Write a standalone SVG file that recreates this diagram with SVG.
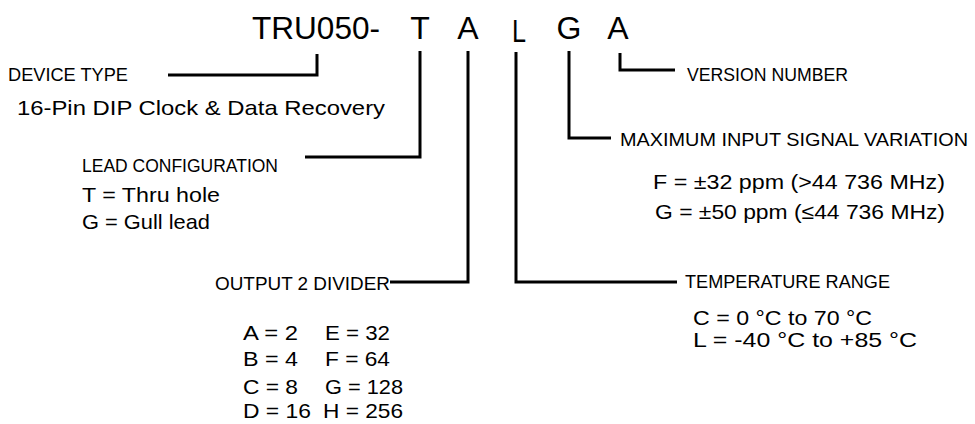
<svg xmlns="http://www.w3.org/2000/svg" width="975" height="424" viewBox="0 0 975 424">
<style>
text{font-family:"Liberation Sans",Arial,sans-serif;fill:#000;}
.cap{font-size:18.5px;}
.d{font-size:21px;}
.t{font-size:32px;}
.c{fill:none;stroke:#000;stroke-width:3;stroke-linecap:butt;stroke-linejoin:miter;}
</style>
<rect width="975" height="424" fill="#fff"/>
<g id="title">
<text class="t" x="252" y="39" textLength="128" lengthAdjust="spacingAndGlyphs">TRU050-</text>
<text class="t" x="420" y="39" text-anchor="middle">T</text>
<text class="t" x="468" y="39" text-anchor="middle">A</text>
<text class="t" x="519" y="42" text-anchor="middle" textLength="14" lengthAdjust="spacingAndGlyphs">L</text>
<text class="t" x="569" y="39" text-anchor="middle">G</text>
<text class="t" x="618" y="39" text-anchor="middle">A</text>
</g>
<g id="connectors">
<polyline class="c" points="168,75 317,75 317,54"/>
<polyline class="c" points="305,157 420,157 420,51"/>
<polyline class="c" points="390,282 468,282 468,51"/>
<polyline class="c" points="677,282 516,282 516,52"/>
<polyline class="c" points="611,138 569,138 569,51"/>
<polyline class="c" points="675,70 620,70 620,53"/>
</g>
<g id="device-type">
<text class="cap" x="8" y="81" textLength="120" lengthAdjust="spacingAndGlyphs">DEVICE TYPE</text>
<text class="d" x="17" y="115" textLength="368" lengthAdjust="spacingAndGlyphs">16-Pin DIP Clock &amp; Data Recovery</text>
</g>
<g id="lead-configuration">
<text class="cap" x="82" y="172" textLength="196" lengthAdjust="spacingAndGlyphs">LEAD CONFIGURATION</text>
<text class="d" x="82" y="202" textLength="138" lengthAdjust="spacingAndGlyphs">T = Thru hole</text>
<text class="d" x="82" y="229" textLength="128" lengthAdjust="spacingAndGlyphs">G = Gull lead</text>
</g>
<g id="output-divider">
<text class="cap" x="215" y="290" textLength="175" lengthAdjust="spacingAndGlyphs">OUTPUT 2 DIVIDER</text>
<text class="d" x="243" y="340" textLength="55" lengthAdjust="spacingAndGlyphs">A = 2</text>
<text class="d" x="325" y="340" textLength="65" lengthAdjust="spacingAndGlyphs">E = 32</text>
<text class="d" x="243" y="366" textLength="55" lengthAdjust="spacingAndGlyphs">B = 4</text>
<text class="d" x="325" y="366" textLength="65" lengthAdjust="spacingAndGlyphs">F = 64</text>
<text class="d" x="243" y="394" textLength="55" lengthAdjust="spacingAndGlyphs">C = 8</text>
<text class="d" x="325" y="394" textLength="78" lengthAdjust="spacingAndGlyphs">G = 128</text>
<text class="d" x="243" y="418" textLength="68" lengthAdjust="spacingAndGlyphs">D = 16</text>
<text class="d" x="323" y="418" textLength="80" lengthAdjust="spacingAndGlyphs">H = 256</text>
</g>
<g id="temperature-range">
<text class="cap" x="685" y="288" textLength="205" lengthAdjust="spacingAndGlyphs">TEMPERATURE RANGE</text>
<text class="d" x="693" y="325" textLength="179" lengthAdjust="spacingAndGlyphs">C = 0 °C to 70 °C</text>
<text class="d" x="693" y="347" textLength="224" lengthAdjust="spacingAndGlyphs">L = -40 °C to +85 °C</text>
</g>
<g id="input-variation">
<text class="cap" x="620" y="146" textLength="348" lengthAdjust="spacingAndGlyphs">MAXIMUM INPUT SIGNAL VARIATION</text>
<text class="d" x="653" y="189" textLength="292" lengthAdjust="spacingAndGlyphs">F = ±32 ppm (&gt;44 736 MHz)</text>
<text class="d" x="655" y="219" textLength="290" lengthAdjust="spacingAndGlyphs">G = ±50 ppm (≤44 736 MHz)</text>
</g>
<g id="version-number">
<text class="cap" x="687" y="81" textLength="161" lengthAdjust="spacingAndGlyphs">VERSION NUMBER</text>
</g>
</svg>
